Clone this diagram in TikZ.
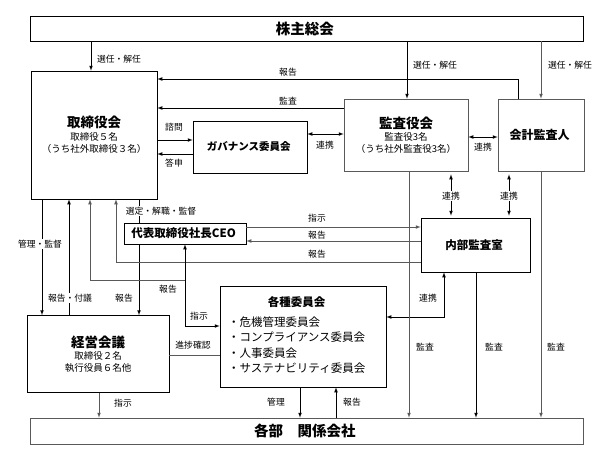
\documentclass[tikz,border=0pt]{standalone}
\usepackage{fontspec}
\setmainfont{Noto Sans CJK JP}
\usetikzlibrary{positioning}

\begin{document}
\begin{tikzpicture}[x=1pt,y=-1pt,>=latex,line width=0.7pt,
  box/.style={draw,align=center,inner sep=0pt,fill=white},
  soft/.style={draw=black!65},
  lbl/.style={font=\fontsize{8.8}{10}\selectfont,inner sep=1pt},
  onl/.style={lbl,fill=white}]
  \useasboundingbox (0,0) rectangle (615,461);

  % boxes
  \node at (306.5,28.5) [box,minimum width=553pt,minimum height=25pt,font=\fontsize{14.5}{16}\selectfont\bfseries] (shareholders) {
    株主総会
  };

  \node at (306.5,431) [box,soft,minimum width=553pt,minimum height=26pt,font=\fontsize{14.5}{16}\selectfont\bfseries] (divisions) {
    各部　関係会社
  };

  \node at (94,135) [box,minimum width=126pt,minimum height=128pt,font=\fontsize{9.5}{12.5}\selectfont] (board) {
    {\fontsize{13.5}{15}\selectfont\bfseries 取締役会}\\
    取締役５名\\
    （うち社外取締役３名）
  };

  \node at (406,135) [box,soft,minimum width=124pt,minimum height=72pt,font=\fontsize{9.5}{12}\selectfont] (auditors) {
    {\fontsize{13.5}{15}\selectfont\bfseries 監査役会}\\
    監査役3名\\
    （うち社外監査役3名）
  };

  \node at (541,135) [box,soft,minimum width=86pt,minimum height=72pt,font=\fontsize{12}{14}\selectfont\bfseries] (accountant) {
    会計監査人
  };

  \node at (250,147) [box,minimum width=114pt,minimum height=52pt,font=\fontsize{10.5}{12}\selectfont\bfseries] (governance) {
    ガバナンス委員会
  };

  \node at (185,233.5) [box,minimum width=122pt,minimum height=21pt,font=\fontsize{11.5}{13}\selectfont\bfseries] (ceo) {
    代表取締役社長CEO
  };

  \node at (475.5,245) [box,minimum width=109pt,minimum height=54pt,font=\fontsize{11.5}{13}\selectfont\bfseries] (internal) {
    内部監査室
  };

  \node at (303,336.5) [box,minimum width=166pt,minimum height=101pt,font=\fontsize{11.5}{15.5}\selectfont] (committees) {
    \begin{tabular}{@{}l@{}}
      \multicolumn{1}{c}{\bfseries 各種委員会}\\[4pt]
      ・危機管理委員会\\
      ・コンプライアンス委員会\\
      ・人事委員会\\
      ・サステナビリティ委員会
    \end{tabular}\hspace*{10pt}
  };

  \node at (98,354) [box,minimum width=142pt,minimum height=77pt,font=\fontsize{9.5}{12}\selectfont] (management) {
    {\fontsize{13.5}{15}\selectfont\bfseries 経営会議}\\
    取締役２名\\
    執行役員６名他
  };

  % election by shareholders
  \draw[->] (shareholders.south -| 91,0) -- (board.north -| 91,0);
  \draw[->] (shareholders.south -| 407,0) -- (auditors.north -| 407,0);
  \draw[->,soft] (shareholders.south -| 541,0) -- (accountant.north);
  \node at (119,59) [lbl] (elect1) {選任・解任};
  \node at (435,65) [lbl] (elect2) {選任・解任};
  \node at (570,65) [lbl] (elect3) {選任・解任};

  % reports and audit to the board
  \draw[->] (accountant.north -| 518,0) |- (board.east |- 0,79);
  \node at (288,72) [lbl] (rep1) {報告};
  \draw[->] (auditors.west |- 0,108) -- (board.east |- 0,108);
  \node at (288,101) [lbl] (audit1) {監査};

  % governance committee
  \draw[->] (board.east |- 0,140) -- (governance.west |- 0,140);
  \draw[->] (governance.west |- 0,154) -- (board.east |- 0,154);
  \node at (174,127) [lbl] (consult) {諮問};
  \node at (174,163) [lbl] (answer) {答申};
  \draw[<->] (governance.east |- 0,134) -- (auditors.west |- 0,134);
  \node at (325,145) [lbl] (link1) {連携};
  \draw[<->] (auditors.east |- 0,137) -- (accountant.west |- 0,137);
  \node at (483,147) [lbl] (link2) {連携};

  % internal audit links
  \draw[<->,shorten <=3pt,shorten >=2pt] (auditors.south -| 451,0) -- (internal.north -| 451,0);
  \node at (451,196) [onl] (link3) {連携};
  \draw[<->,shorten <=3pt,shorten >=2pt] (accountant.south -| 509,0) -- (internal.north -| 509,0);
  \node at (509,196) [onl] (link4) {連携};

  % ceo
  \draw (board.south -| 139,0) -- (ceo.north -| 139,0);
  \draw[->] (ceo.south -| 139,0) -- (management.north -| 139,0);
  \node at (161,211) [onl] (appoint) {選定・解職・監督};
  \node at (124,298) [lbl] (rep2) {報告};
  \draw[->,soft] (ceo.east |- 0,227) -- (internal.west |- 0,227);
  \node at (317,218) [lbl] (order1) {指示};
  \draw[->,soft] (internal.west |- 0,241) -- (ceo.east |- 0,241);
  \node at (317,235) [lbl] (rep3) {報告};
  \draw[->,soft] (internal.west |- 0,262) -| (board.south -| 116,0);
  \node at (317,254) [lbl] (rep4) {報告};

  % board and management meeting
  \draw[->] (board.south -| 42,0) -- (management.north -| 42,0);
  \node at (40,244) [onl] (supervise) {管理・監督};
  \draw[->] (management.north -| 69,0) -- (board.south -| 69,0);
  \node at (70,298) [onl] (propose) {報告・付議};

  % ceo and committees
  \coordinate (junction) at (185,280);
  \draw[<->] (ceo.south -| 185,0) |- (committees.west |- 0,326);
  \draw[->,soft] (junction) -| (board.south -| 90,0);
  \node at (168,289) [lbl] (rep5) {報告};
  \node at (199,316) [lbl] (order2) {指示};
  \draw[<->] (internal.south -| 444,0) |- (committees.east |- 0,317);
  \node at (428,298) [lbl] (link5) {連携};
  \draw[soft] (management.east |- 0,355) -- (committees.west |- 0,355);
  \node at (193,345) [lbl] (progress) {進捗確認};

  % towards divisions
  \draw[->,soft] (auditors.south -| 409,0) -- (divisions.north -| 409,0);
  \draw[->] (internal.south -| 476,0) -- (divisions.north -| 476,0);
  \draw[->,soft] (accountant.south) -- (divisions.north -| 541,0);
  \node at (425,347) [lbl] (audit2) {監査};
  \node at (494,347) [lbl] (audit3) {監査};
  \node at (556,347) [lbl] (audit4) {監査};
  \draw[->] (committees.south -| 300,0) -- (divisions.north -| 300,0);
  \draw[->] (divisions.north -| 336,0) -- (committees.south -| 336,0);
  \node at (276,402) [lbl] (manage) {管理};
  \node at (352,402) [lbl] (rep6) {報告};
  \draw[->,soft] (management.south -| 99,0) -- (divisions.north -| 99,0);
  \node at (123,403) [lbl] (order3) {指示};
\end{tikzpicture}
\end{document}
